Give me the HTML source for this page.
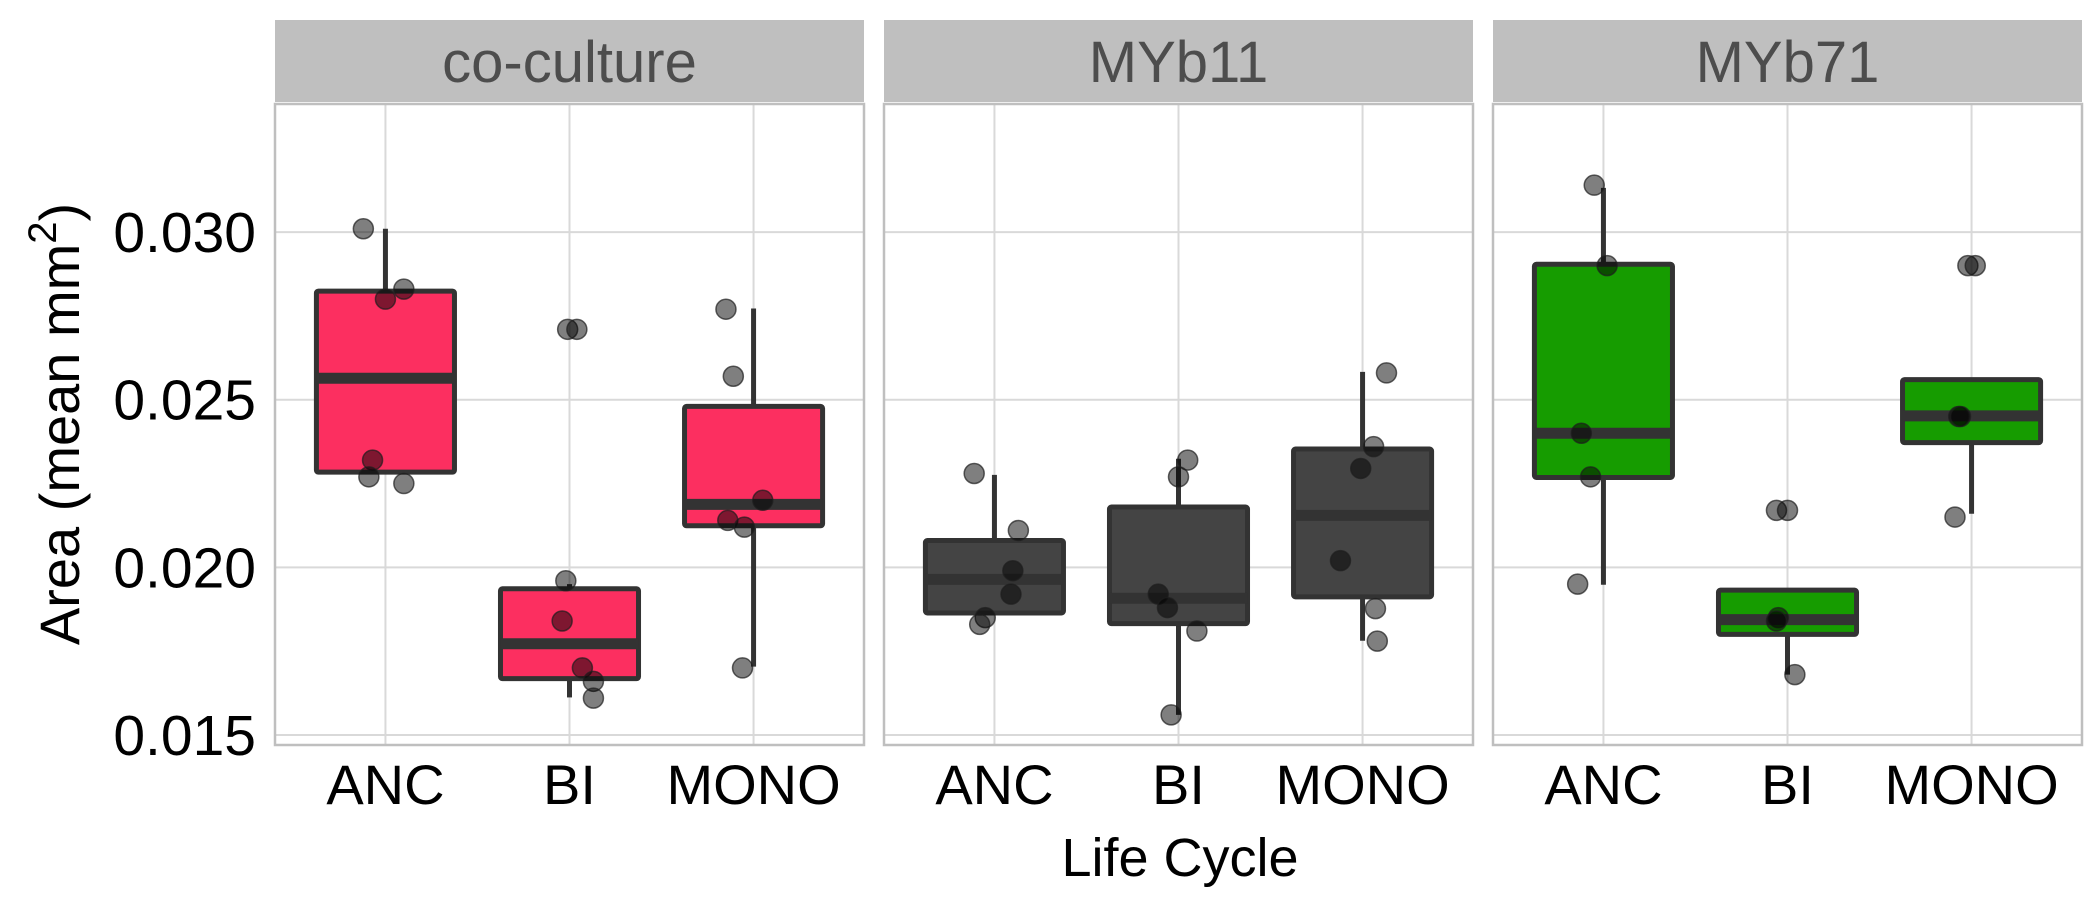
<!DOCTYPE html>
<html><head><meta charset="utf-8"><style>
html,body{margin:0;padding:0;background:#fff;}
svg{display:block;font-family:"Liberation Sans",sans-serif;}
</style></head><body>
<svg id="chart" width="2100" height="900" viewBox="0 0 2100 900" xmlns="http://www.w3.org/2000/svg"></svg>
<script>
const facets = ["co-culture","MYb11","MYb71"];
const categories = ["ANC","BI","MONO"];
const yTicks = [0.015,0.020,0.025,0.030];
const yTickLabels = ["0.015","0.020","0.025","0.030"];
const fills = ["#fc2f60","#444444","#169c00"];
// per facet, per category: [whiskerLow, q1, median, q3, whiskerHigh]
const boxStats = [
 [[0.02284,0.02284,0.02564,0.02824,0.0301],[0.01612,0.01668,0.01772,0.01936,0.0195],[0.01704,0.02124,0.02188,0.0248,0.02772]],
 [[0.01864,0.01864,0.01964,0.0208,0.02276],[0.0156,0.01832,0.01908,0.0218,0.02324],[0.01781,0.01912,0.02155,0.02353,0.02583]],
 [[0.01948,0.02268,0.024,0.02904,0.03132],[0.0168,0.018,0.01844,0.01932,0.01932],[0.0216,0.02372,0.02452,0.0256,0.0256]]
];
const pointValues = [
 [[0.0301,0.0283,0.0280,0.0232,0.0227,0.0225],[0.0271,0.0271,0.0196,0.0184,0.0170,0.0166,0.0161],[0.0277,0.0257,0.0220,0.0214,0.0212,0.0170]],
 [[0.0228,0.0211,0.0199,0.0192,0.0185,0.0183],[0.0232,0.0227,0.0192,0.0188,0.0181,0.0156],[0.0258,0.0236,0.02295,0.0202,0.01877,0.0178]],
 [[0.0314,0.0290,0.0240,0.0227,0.0195],[0.0217,0.0217,0.0185,0.0184,0.0168],[0.0290,0.0290,0.0245,0.0245,0.0215]]
];
const pointJitter = [
 [[-0.12,0.1,0.0,-0.07,-0.09,0.1],[-0.01,0.04,-0.02,-0.04,0.07,0.13,0.13],[-0.15,-0.11,0.05,-0.14,-0.05,-0.06]],
 [[-0.11,0.13,0.1,0.09,-0.05,-0.08],[0.05,0.0,-0.11,-0.06,0.1,-0.04],[0.13,0.06,-0.01,-0.12,0.07,0.08]],
 [[-0.05,0.02,-0.12,-0.07,-0.14],[-0.06,0.0,-0.05,-0.06,0.04],[-0.02,0.02,-0.07,-0.06,-0.09]]
];

const NS="http://www.w3.org/2000/svg";
const svg=document.getElementById('chart');
function mk(tag,attrs,parent){const e=document.createElementNS(NS,tag);for(const k in attrs)e.setAttribute(k,attrs[k]);(parent||svg).appendChild(e);return e;}
const panelLefts=[275,884,1493], panelW=589, pTop=104, pBot=745, stripTop=20, stripBot=102;
const yMin=0.014701, yMax=0.033821;
function y(v){return pBot-(v-yMin)/(yMax-yMin)*(pBot-pTop);}
const bandW=panelW/3.2;
function x(f,i){return panelLefts[f]+bandW*(0.6+i);}

facets.forEach((fn,f)=>{
 const L=panelLefts[f];
 const strip=mk('rect',{x:L,y:stripTop,width:panelW,height:stripBot-stripTop,fill:'#bfbfbf'});
 
 
 const st=mk('text',{x:L+panelW/2,y:82,'text-anchor':'middle','font-size':'58',fill:'#4d4d4d'});
 st.textContent=fn;
 
 
 const g=mk('g',{});
 
 
 mk('rect',{x:L,y:pTop,width:panelW,height:pBot-pTop,fill:'#fff'},g);
 yTicks.forEach(t=>{mk('line',{x1:L,x2:L+panelW,y1:y(t),y2:y(t),stroke:'#d9d9d9','stroke-width':2},g);});
 categories.forEach((c,i)=>{mk('line',{x1:x(f,i),x2:x(f,i),y1:pTop,y2:pBot,stroke:'#d9d9d9','stroke-width':2},g);});
 categories.forEach((c,i)=>{
  const s=boxStats[f][i], cx=x(f,i), bw=bandW*0.75;
  const bx=mk('g',{},g);
  
  
  mk('line',{x1:cx,x2:cx,y1:y(s[3]),y2:y(s[4]),stroke:'#333','stroke-width':5},bx);
  mk('line',{x1:cx,x2:cx,y1:y(s[1]),y2:y(s[0]),stroke:'#333','stroke-width':5},bx);
  mk('rect',{x:cx-bw/2,y:y(s[3]),width:bw,height:y(s[1])-y(s[3]),fill:fills[f],stroke:'#333','stroke-width':5,rx:2},bx);
  mk('line',{x1:cx-bw/2,x2:cx+bw/2,y1:y(s[2]),y2:y(s[2]),stroke:'#333','stroke-width':11},bx);
  pointValues[f][i].forEach((v,k)=>{
   const p=mk('circle',{cx:cx+pointJitter[f][i][k]*bandW,cy:y(v),r:10,fill:'rgba(0,0,0,0.5)',stroke:'rgba(30,30,30,0.7)','stroke-width':1.5},g);
   
   
  });
 });
 mk('rect',{x:L,y:pTop,width:panelW,height:pBot-pTop,fill:'none',stroke:'#bfbfbf','stroke-width':2.5},g);
 categories.forEach((c,i)=>{
  const t=mk('text',{x:x(f,i),y:804,'text-anchor':'middle','font-size':'56',fill:'#000'});
  t.textContent=c;
  
  
 });
});
yTicks.forEach((t,i)=>{
 const tx=mk('text',{x:256,y:y(t)+20,'text-anchor':'end','font-size':'57',fill:'#000'});
 tx.textContent=yTickLabels[i];
 
 
});
const xt=mk('text',{x:1180,y:876,'text-anchor':'middle','font-size':'54',fill:'#000'});
xt.textContent='Life Cycle';


const yt=mk('text',{x:0,y:0,'text-anchor':'middle','font-size':'56',fill:'#000',transform:'translate(79,424) rotate(-90)'});


yt.appendChild(document.createTextNode('Area (mean mm'));
const sup=mk('tspan',{'font-size':'40',dy:'-23'},yt);sup.textContent='2';
const cl=mk('tspan',{dy:'23','font-size':'56'},yt);cl.textContent=')';
</script>
</body></html>
